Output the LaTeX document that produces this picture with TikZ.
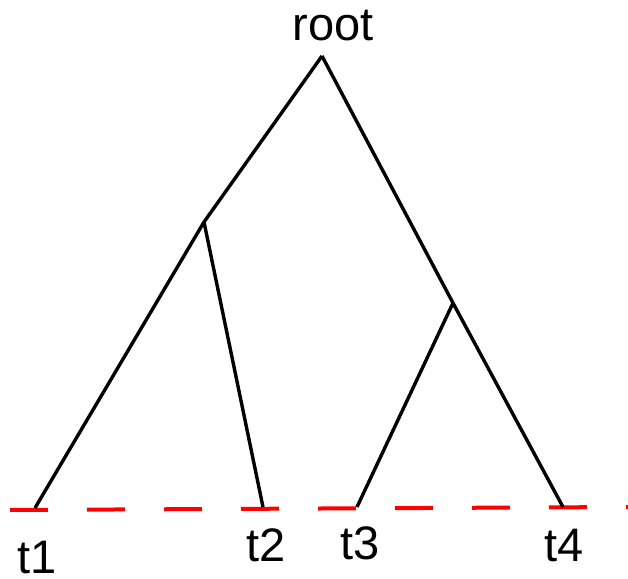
\documentclass[tikz,border=0pt]{standalone}
\usepackage{fontspec}
\setmainfont{Liberation Sans}
\usepackage{tikz}

\begin{document}
\begin{tikzpicture}[x=0.5pt,y=-0.5pt,
  every node/.style={font=\fontsize{23.5}{27}\selectfont,inner sep=0pt},
  branch/.style={draw=black,line width=1.7pt},
  % time line the tips sit on
  tipline/.style={draw=red,line width=2pt,dash pattern=on 19pt off 19.5pt}]

\useasboundingbox (0,0) rectangle (628,579);

\coordinate (top)   at (322,56);
\coordinate (inA)   at (204,222);
\coordinate (inB)   at (453,303);
\coordinate (leaf1) at (35,508);
\coordinate (leaf2) at (263,507);
\coordinate (leaf3) at (357,507);
\coordinate (leaf4) at (563,507);

\coordinate (lineL) at (10,510);
\coordinate (lineR) at (630,507);
\draw[tipline] (lineL) -- (lineR);

\foreach \a/\b in {top/inA,inA/leaf1,inA/leaf2,top/inB,inB/leaf3,inB/leaf4}
  \draw[branch] (\a) -- (\b);

\node[anchor=base] (rootlbl) at (333,40) {root};
\node[anchor=base] (t1) at (37,573) {t1};
\node[anchor=base] (t2) at (266,561) {t2};
\node[anchor=base] (t3) at (360,559) {t3};
\node[anchor=base] (t4) at (564,561) {t4};
\end{tikzpicture}
\end{document}
